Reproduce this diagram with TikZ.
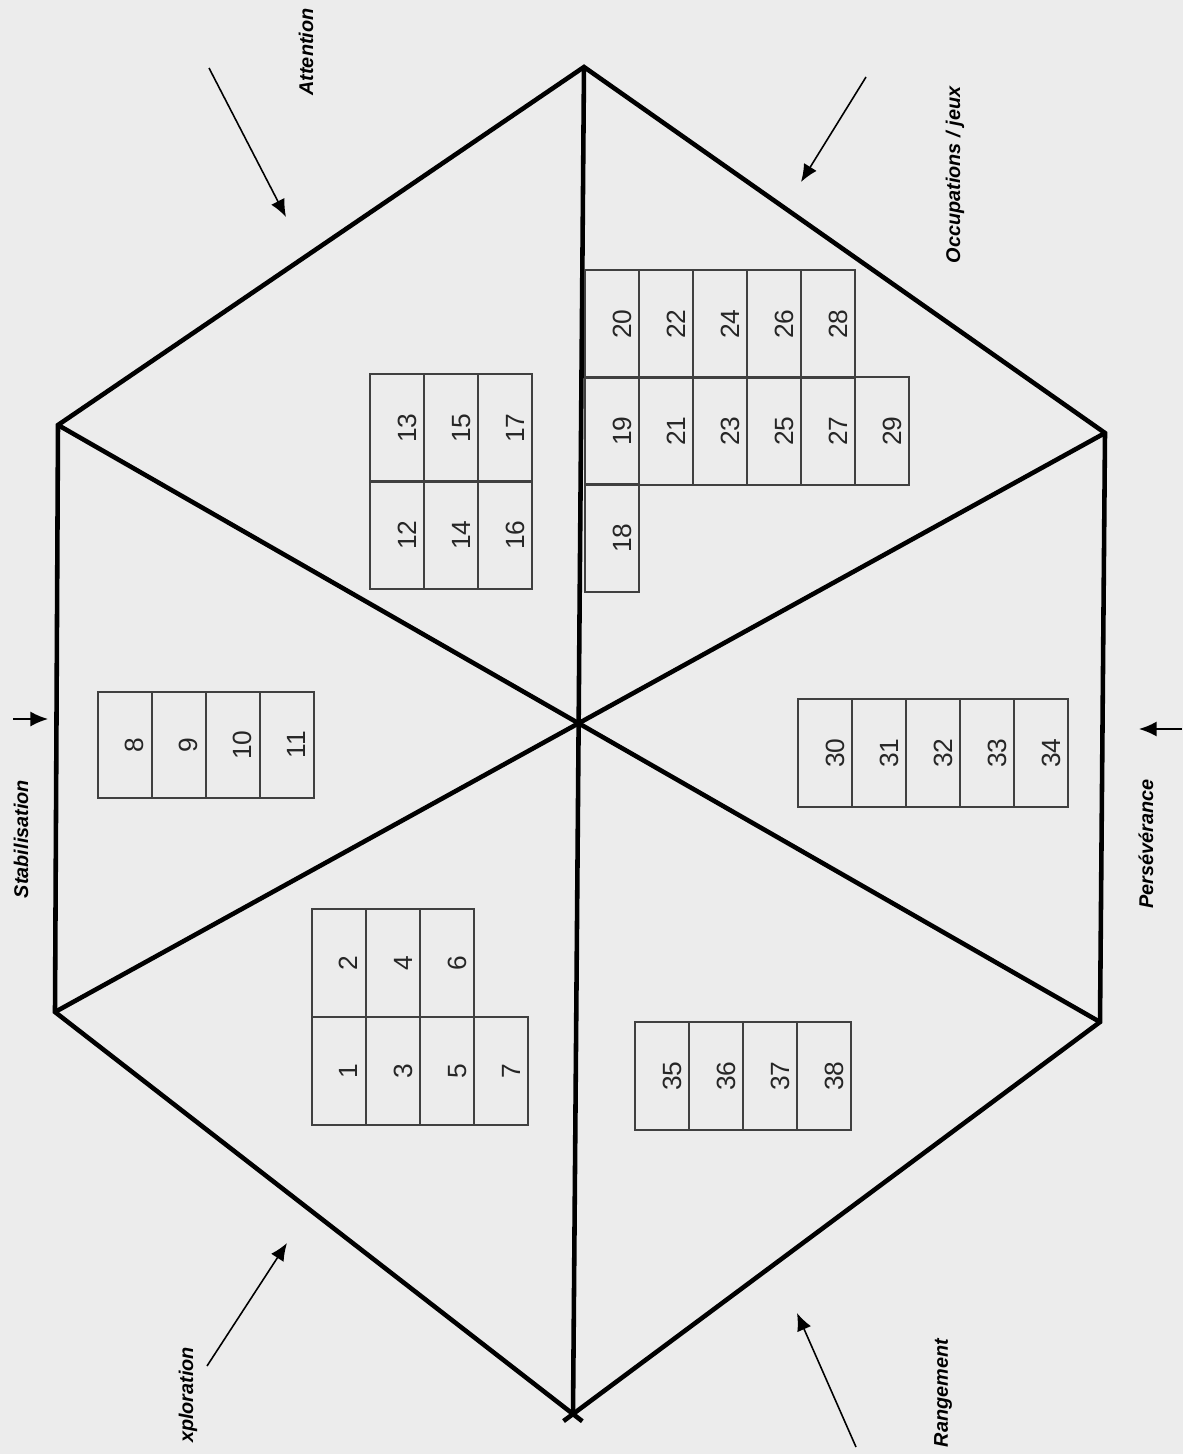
\documentclass[tikz,border=0pt]{standalone}
\usepackage{fontspec}
\setmainfont{Liberation Sans}
\usepackage{tikz}
\usetikzlibrary{arrows.meta,calc}
\usepackage{xcolor}

\definecolor{paper}{RGB}{236,236,236}

\begin{document}
\begin{tikzpicture}[
    x=0.02cm, y=-0.02cm,
    hexline/.style={line width=2.6pt, line join=miter},
    cell/.style={draw=black!75, line width=0.8pt, rotate=90,
        minimum width=2.16cm, minimum height=1.08cm, inner sep=0pt,
        text height=0.76cm, text depth=0pt, text=black!85,
        font=\fontsize{15}{18}\selectfont},
    lbl/.style={rotate=90, inner sep=0pt,
        font=\fontsize{11.3}{13}\selectfont\bfseries\itshape},
    arrow/.style={-{Latex[length=10pt,width=8.5pt]}, line width=0.9pt}
]

% Page
\fill[paper] (0,0) rectangle (1183,1454);
\useasboundingbox (0,0) rectangle (1183,1454);

% Hexagon corners
\coordinate (top) at (584,67);
\coordinate (ul) at (58,425);
\coordinate (ll) at (55,1012);
\coordinate (bot) at (573,1414);
\coordinate (lr) at (1100,1022);
\coordinate (ur) at (1105,433);

% Hexagon and its three diagonals
\draw[hexline] ($(ll)!1.018!(bot)$) -- (ll) -- (ul) -- (top) -- (ur) -- (lr)
    -- ($(lr)!1.018!(bot)$);
\draw[hexline] (top) -- (bot);
\draw[hexline] (ul) -- (lr);
\draw[hexline] (ll) -- (ur);

% Grid 1 -- 7
\node[cell] (c2) at (339,963) {2};
\node[cell] (c1) at (339,1071) {1};
\node[cell] (c4) at (393,963) {4};
\node[cell] (c3) at (393,1071) {3};
\node[cell] (c6) at (447,963) {6};
\node[cell] (c5) at (447,1071) {5};
\node[cell] (c7) at (501,1071) {7};

% Grid 8 -- 11
\node[cell, minimum width=2.12cm] (c8) at (125,745) {8};
\node[cell, minimum width=2.12cm] (c9) at (179,745) {9};
\node[cell, minimum width=2.12cm] (c10) at (233,745) {10};
\node[cell, minimum width=2.12cm] (c11) at (287,745) {11};

% Grid 12 -- 17
\node[cell] (c13) at (397,428) {13};
\node[cell] (c12) at (397,535) {12};
\node[cell] (c15) at (451,428) {15};
\node[cell] (c14) at (451,535) {14};
\node[cell] (c17) at (505,428) {17};
\node[cell] (c16) at (505,535) {16};

% Grid 18 -- 29
\node[cell] (c20) at (612,324) {20};
\node[cell] (c22) at (666,324) {22};
\node[cell] (c24) at (720,324) {24};
\node[cell] (c26) at (774,324) {26};
\node[cell] (c28) at (828,324) {28};
\node[cell] (c19) at (612,431) {19};
\node[cell] (c21) at (666,431) {21};
\node[cell] (c23) at (720,431) {23};
\node[cell] (c25) at (774,431) {25};
\node[cell] (c27) at (828,431) {27};
\node[cell] (c29) at (882,431) {29};
\node[cell] (c18) at (612,538) {18};

% Grid 30 -- 34
\node[cell] (c30) at (825,753) {30};
\node[cell] (c31) at (879,753) {31};
\node[cell] (c32) at (933,753) {32};
\node[cell] (c33) at (987,753) {33};
\node[cell] (c34) at (1041,753) {34};

% Grid 35 -- 38
\node[cell] (c35) at (662,1076) {35};
\node[cell] (c36) at (716,1076) {36};
\node[cell] (c37) at (770,1076) {37};
\node[cell] (c38) at (824,1076) {38};

% Side labels
\node[lbl] (attention) at (306,52) {Attention};
\node[lbl] (occup) at (955,175) {Occupations / jeux};
\node[lbl] (stabil) at (21,839) {Stabilisation};
\node[lbl] (persev) at (1146,844) {Persévérance};
\node[lbl] (explor) at (188,1395) {xploration};
\node[lbl] (range) at (943,1393) {Rangement};

% Arrows towards the hexagon
\coordinate (att-a) at (209,68);
\coordinate (att-b) at (286,217);
\coordinate (occ-a) at (866,77);
\coordinate (occ-b) at (801,182);
\coordinate (sta-a) at (13,719);
\coordinate (sta-b) at (48,719);
\coordinate (per-a) at (1182,729);
\coordinate (per-b) at (1139,729);
\coordinate (exp-a) at (207,1366);
\coordinate (exp-b) at (287,1243);
\coordinate (ran-a) at (856,1447);
\coordinate (ran-b) at (797,1313);

\draw[arrow] (att-a) -- (att-b);
\draw[arrow] (occ-a) -- (occ-b);
\draw[arrow] (sta-a) -- (sta-b);
\draw[arrow] (per-a) -- (per-b);
\draw[arrow] (exp-a) -- (exp-b);
\draw[arrow] (ran-a) -- (ran-b);

\end{tikzpicture}
\end{document}
